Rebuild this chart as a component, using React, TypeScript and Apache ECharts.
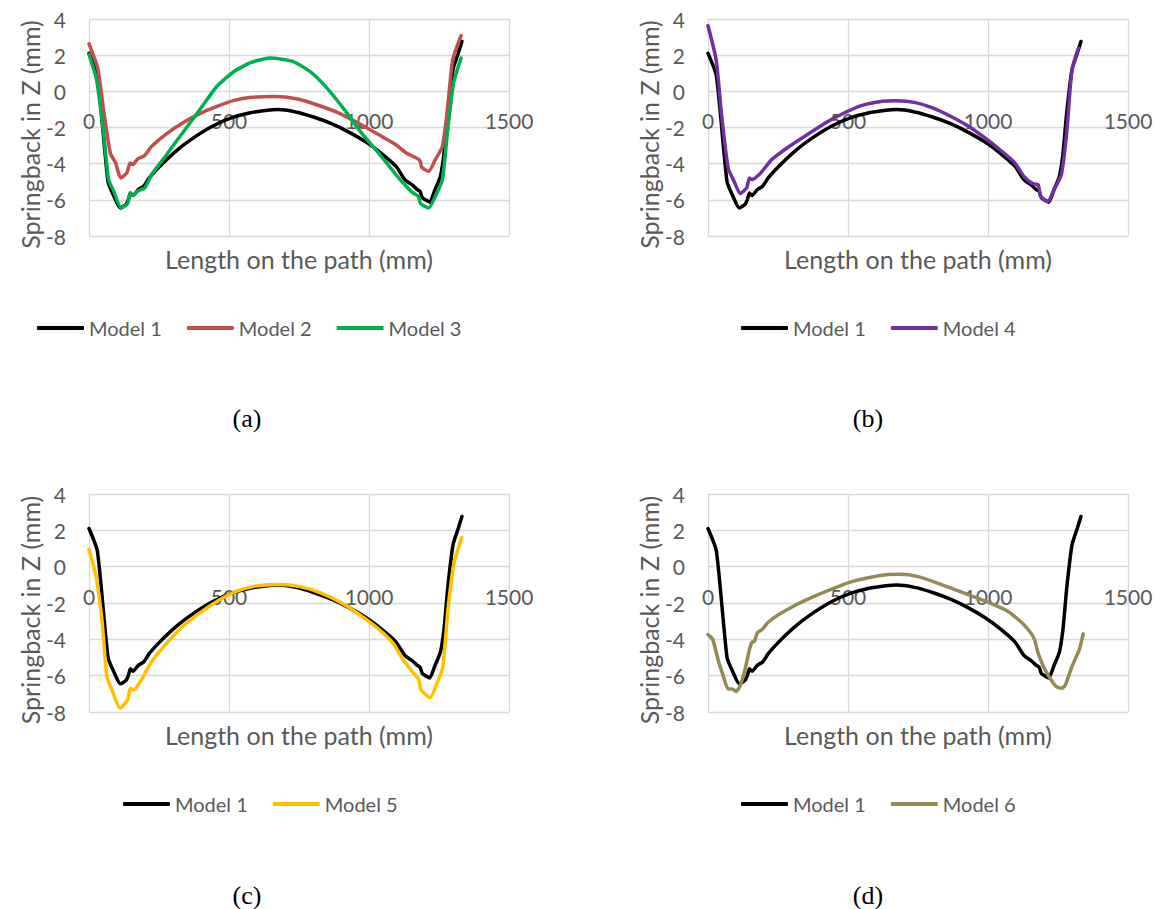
import React, { useEffect, useRef } from "react";
import * as echarts from "echarts";

// Axis ticks (mm)
const xTicks = [0, 500, 1000, 1500];
const yTicks = [-8, -6, -4, -2, 0, 2, 4];

const xTitle = "Length on the path (mm)";
const yTitle = "Springback in Z (mm)";
const captions = ["(a)", "(b)", "(c)", "(d)"];

// [length on path (mm), springback in Z (mm)]
const model1 = [
  [0, 2.1], [30, 0.85], [68, -5.0], [89, -5.8], [112, -6.45], [132, -6.26], [141, -5.98],
  [148, -5.62], [157, -5.76], [176, -5.43], [195, -5.25], [215, -4.79], [253, -4.14],
  [317, -3.22], [381, -2.49], [444, -1.9], [508, -1.47], [572, -1.2], [636, -1.05],
  [674, -1.01], [738, -1.14], [802, -1.42], [866, -1.79], [930, -2.27], [994, -2.85],
  [1045, -3.44], [1096, -4.14], [1128, -4.88], [1153, -5.16], [1172, -5.43], [1182, -5.52],
  [1191, -5.89], [1211, -6.08], [1217, -6.13], [1236, -5.43], [1255, -4.7], [1268, -3.41],
  [1281, -1.2], [1300, 1.2], [1319, 2.12], [1332, 2.76],
];

const model2 = [
  [0, 2.63], [31, 1.29], [52, -1.01], [76, -3.41], [95, -3.96], [113, -4.79], [135, -4.51],
  [147, -3.96], [156, -4.05], [174, -3.74], [199, -3.55], [224, -3.04], [273, -2.39],
  [334, -1.75], [396, -1.23], [457, -0.83], [518, -0.5], [580, -0.33], [666, -0.28],
  [740, -0.41], [813, -0.74], [887, -1.16], [961, -1.75], [1034, -2.39], [1096, -2.95],
  [1133, -3.41], [1176, -3.74], [1184, -3.92], [1188, -4.2], [1213, -4.42], [1237, -3.78],
  [1262, -3.04], [1280, -1.01], [1299, 1.75], [1329, 3.08],
];

const model3 = [
  [0, 2.03], [27, 0.64], [52, -2.3], [70, -4.88], [88, -5.52], [115, -6.45], [138, -6.21],
  [147, -5.62], [157, -5.76], [174, -5.52], [199, -5.34], [224, -4.6], [273, -3.59],
  [334, -2.3], [396, -1.01], [457, 0.28], [518, 1.1], [580, 1.6], [647, 1.84], [727, 1.66],
  [789, 1.1], [850, 0.18], [912, -1.01], [973, -2.3], [1034, -3.41], [1096, -4.6],
  [1133, -5.25], [1157, -5.62], [1176, -5.8], [1184, -6.21], [1213, -6.45], [1237, -5.8],
  [1262, -4.88], [1280, -2.3], [1302, 0.46], [1329, 1.84],
];

const model4 = [
  [0, 3.63], [29, 1.75], [49, -1.38], [72, -4.24], [93, -4.97], [115, -5.65], [138, -5.34],
  [148, -4.79], [157, -4.88], [183, -4.6], [208, -4.14], [227, -3.78], [291, -3.04],
  [355, -2.39], [419, -1.75], [486, -1.2], [547, -0.79], [623, -0.55], [674, -0.52],
  [738, -0.61], [802, -0.92], [866, -1.38], [930, -1.93], [994, -2.63], [1045, -3.26],
  [1096, -3.96], [1128, -4.7], [1159, -5.1], [1179, -5.16], [1188, -5.8], [1213, -6.11],
  [1236, -5.43], [1262, -4.6], [1281, -2.3], [1300, 1.2], [1323, 2.39],
];

const model5 = [
  [0, 0.96], [25, -0.52], [46, -2.91], [64, -6.04], [82, -6.78], [111, -7.79], [138, -7.33],
  [148, -6.69], [160, -6.78], [187, -6.22], [224, -5.21], [273, -4.29], [335, -3.28],
  [396, -2.54], [458, -1.9], [519, -1.4], [593, -1.07], [679, -0.98], [753, -1.1],
  [827, -1.44], [901, -1.99], [974, -2.73], [1036, -3.46], [1085, -4.2], [1122, -5.12],
  [1159, -5.86], [1178, -6.22], [1186, -6.78], [1218, -7.2], [1243, -6.41], [1264, -5.49],
  [1282, -2.36], [1304, 0.22], [1331, 1.6],
];

const model6 = [
  [0, -3.74], [17, -4.01], [36, -5.12], [55, -6.04], [72, -6.74], [87, -6.74], [100, -6.87],
  [115, -6.56], [132, -5.67], [148, -4.57], [157, -4.16], [166, -4.11], [176, -3.65],
  [195, -3.43], [215, -3.06], [253, -2.63], [317, -2.08], [381, -1.62], [444, -1.22],
  [508, -0.85], [572, -0.61], [636, -0.44], [687, -0.42], [751, -0.55], [815, -0.88],
  [879, -1.25], [943, -1.62], [1006, -1.99], [1070, -2.45], [1121, -3.09], [1153, -3.65],
  [1166, -4.01], [1179, -4.75], [1198, -5.49], [1221, -6.13], [1243, -6.59], [1262, -6.69],
  [1275, -6.56], [1300, -5.49], [1326, -4.57], [1340, -3.7],
];

const colors: Record<string, string> = {
  "Model 1": "#000000",
  "Model 2": "#C0504D",
  "Model 3": "#00B050",
  "Model 4": "#7030A0",
  "Model 5": "#FFC000",
  "Model 6": "#948A54",
};

const panels = [
  { series: [["Model 1", model1], ["Model 2", model2], ["Model 3", model3]] },
  { series: [["Model 1", model1], ["Model 4", model4]] },
  { series: [["Model 1", model1], ["Model 5", model5]] },
  { series: [["Model 1", model1], ["Model 6", model6]] },
];

const FONT = "Lato";
const TEXT = "#595959";
const GRID = "#D9D9D9";

export default function App() {
  const ref = useRef<HTMLDivElement>(null);
  useEffect(() => {
    if (!ref.current) return;
    const chart = echarts.init(ref.current, undefined, { renderer: "svg" });

    const gridPos = [
      { left: 89, top: 19, width: 420, height: 217 },
      { left: 708, top: 19, width: 420, height: 217 },
      { left: 89, top: 494, width: 420, height: 218 },
      { left: 708, top: 494, width: 420, height: 218 },
    ];
    const legendPos = [
      { left: 32, top: 313 },
      { left: 736, top: 313 },
      { left: 118, top: 789 },
      { left: 736, top: 789 },
    ];
    const captionPos = [
      [247, 418], [868, 418], [247, 895], [868, 895],
    ];

    const yMin = yTicks[0];
    const yMax = yTicks[yTicks.length - 1];

    const grids = gridPos.map((g) => ({ ...g, containLabel: false }));
    const xAxes = gridPos.map((g, i) => ({
      type: "value",
      gridIndex: i,
      position: "bottom",
      // place the axis (and its labels) on the y = 0 line, as in the reference
      offset: -(g.height * (0 - yMin)) / (yMax - yMin),
      min: xTicks[0],
      max: xTicks[xTicks.length - 1],
      interval: xTicks[1] - xTicks[0],
      axisLine: { show: false, onZero: false },
      axisTick: { show: false },
      axisLabel: {
        margin: 19,
        color: TEXT,
        fontSize: 21,
        fontFamily: FONT,
        formatter: (v: number) => String(v),
      },
      splitLine: { show: true, lineStyle: { color: GRID, width: 1.3 } },
    }));
    const yAxes = gridPos.map((_, i) => ({
      type: "value",
      gridIndex: i,
      min: yMin,
      max: yMax,
      interval: yTicks[1] - yTicks[0],
      axisLine: { show: false, onZero: false },
      axisTick: { show: false },
      axisLabel: { margin: 23, color: TEXT, fontSize: 21, fontFamily: FONT },
      splitLine: { show: true, lineStyle: { color: GRID, width: 1.3 } },
    }));

    const series: any[] = [];
    panels.forEach((p, i) => {
      p.series.forEach(([name, data]) => {
        series.push({
          type: "line",
          name,
          xAxisIndex: i,
          yAxisIndex: i,
          data,
          showSymbol: false,
          symbol: "none",
          smooth: 0.2,
          z: 3,
          lineStyle: { width: 3.5, color: colors[name as string], cap: "round", join: "round" },
          itemStyle: { color: colors[name as string] },
        });
      });
    });

    const legends = panels.map((p, i) => ({
      ...legendPos[i],
      orient: "horizontal",
      data: p.series.map(([name]) => name),
      icon: "roundRect",
      itemWidth: 47,
      itemHeight: 4,
      itemGap: 25,
      selectedMode: false,
      textStyle: { color: TEXT, fontSize: 20, fontFamily: FONT },
    }));

    const graphics: any[] = [];
    gridPos.forEach((g, i) => {
      graphics.push({
        type: "text",
        x: g.left + g.width / 2,
        y: g.top + g.height + 23,
        style: {
          text: xTitle,
          fill: TEXT,
          font: `25px ${FONT}`,
          textAlign: "center",
          textVerticalAlign: "middle",
        },
      });
      graphics.push({
        type: "text",
        x: g.left - 59,
        y: g.top + g.height / 2 + 7,
        rotation: Math.PI / 2,
        style: {
          text: yTitle,
          fill: TEXT,
          font: `25px ${FONT}`,
          textAlign: "center",
          textVerticalAlign: "middle",
        },
      });
      graphics.push({
        type: "text",
        x: captionPos[i][0],
        y: captionPos[i][1],
        style: {
          text: captions[i],
          fill: "#000000",
          font: `26px "Liberation Serif"`,
          textAlign: "center",
          textVerticalAlign: "middle",
        },
      });
    });

    chart.setOption({
      animation: false,
      backgroundColor: "#ffffff",
      grid: grids,
      xAxis: xAxes,
      yAxis: yAxes,
      legend: legends,
      series,
      graphic: graphics,
    });
    return () => chart.dispose();
  }, []);

  return (
    <div
      ref={ref}
      style={{ position: "absolute", left: 0, top: 0, width: 1161, height: 909, background: "#fff" }}
    />
  );
}
